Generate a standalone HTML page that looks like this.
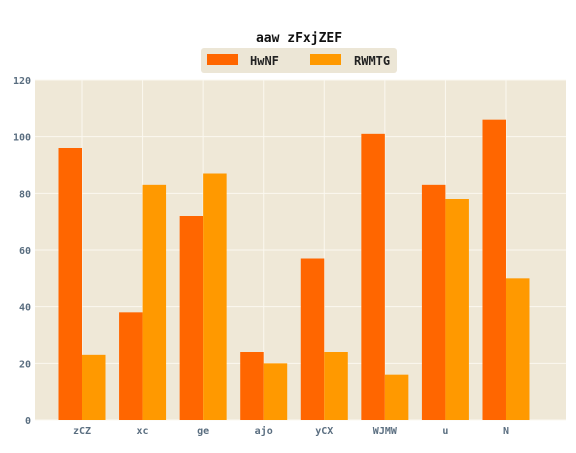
<!DOCTYPE html>
<html><head><style>
body{margin:0;background:#fff;}
svg text{font-family:"DejaVu Sans Mono","Liberation Mono",monospace;font-weight:bold;}
</style></head><body>
<svg width="576" height="448" xmlns="http://www.w3.org/2000/svg">
<text x="299" y="42" text-anchor="middle" font-size="13" fill="#111">aaw zFxjZEF</text>
<g>
<rect x="201" y="48" width="196" height="25" rx="3" fill="#ece6d6"/>
<rect x="207" y="54" width="31" height="11" fill="#ff6600"/>
<text x="250" y="65" font-size="12" fill="#222">HwNF</text>
<rect x="310" y="54" width="31" height="11" fill="#ff9900"/>
<text x="354" y="65" font-size="12" fill="#222">RWMTG</text>
</g>
<rect x="35" y="80" width="531" height="340" fill="#efe8d7"/>
<g id="grid"></g><g id="bars"></g><g id="axes"></g>
</svg>
<script>
const categories=["zCZ","xc","ge","ajo","yCX","WJMW","u","N"];
const seriesHwNF=[96,38,72,24,57,101,83,106];
const seriesRWMTG=[23,83,87,20,24,16,78,50];
const yTicks=[0,20,40,60,80,100,120];
const NS="http://www.w3.org/2000/svg";
const y=v=>420-v*(340/120);
const x=i=>82+i*60.57;
const bw=23.5;
const grid=document.getElementById('grid'),bars=document.getElementById('bars'),axes=document.getElementById('axes');
function mk(tag,attrs,parent){const e=document.createElementNS(NS,tag);for(const k in attrs)e.setAttribute(k,attrs[k]);parent.appendChild(e);return e;}
yTicks.forEach(t=>{
 const l=mk('line',{x1:35,x2:566,y1:y(t),y2:y(t),stroke:'#fbf8f0','stroke-width':1},grid);
 
 
 const tx=mk('text',{x:31,y:y(t)+4,'text-anchor':'end','font-size':10,fill:'#5a6e80'},axes);
 tx.textContent=t;
 
 
});
categories.forEach((c,i)=>{
 const l=mk('line',{x1:x(i),x2:x(i),y1:80,y2:420,stroke:'#fbf8f0','stroke-width':1},grid);
 
 
 const a=mk('rect',{x:x(i)-bw,y:y(seriesHwNF[i]),width:bw,height:420-y(seriesHwNF[i]),fill:'#ff6600'},bars);
 
 
 const b=mk('rect',{x:x(i),y:y(seriesRWMTG[i]),width:bw,height:420-y(seriesRWMTG[i]),fill:'#ff9900'},bars);
 
 
 const tx=mk('text',{x:x(i),y:434,'text-anchor':'middle','font-size':10,fill:'#5a6e80'},axes);
 tx.textContent=c;
 
 
});
</script>
</body></html>
